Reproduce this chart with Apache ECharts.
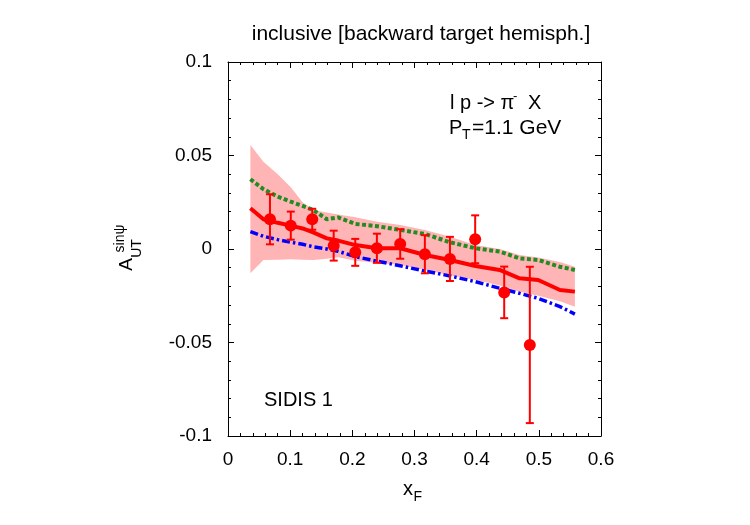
<!DOCTYPE html>
<html><head><meta charset="utf-8">
<script src="https://cdn.jsdelivr.net/npm/echarts@6/dist/echarts.min.js"></script>
<style>html,body{margin:0;padding:0;background:#fff}#c{width:750px;height:525px}</style>
</head><body><div id="c"></div>
<script>
// ---- data ----
const curveX   = [0.036,0.057,0.08,0.101,0.12,0.137,0.159,0.177,0.205,0.24,0.277,0.317,0.357,0.398,0.437,0.469,0.499,0.534,0.558];
const bandUpper= [0.0556,0.0467,0.040,0.033,0.025,0.0209,0.0195,0.0185,0.017,0.0146,0.0128,0.0102,0.0065,0.0021,0.0,-0.0032,-0.0045,-0.007,-0.0095];
const bandLower= [-0.013,-0.0059,-0.0057,-0.0055,-0.0057,-0.0059,-0.0052,-0.0044,-0.0063,-0.0073,-0.0086,-0.0112,-0.014,-0.0166,-0.0195,-0.0228,-0.025,-0.028,-0.0309];
const redCurve = [0.0218,0.0159,0.014,0.0125,0.011,0.0089,0.0057,0.0045,0.0021,0.0004,0.0004,-0.0032,-0.0059,-0.0091,-0.0112,-0.0157,-0.0166,-0.0219,-0.0228];
const greenCurve=[0.0373,0.032,0.028,0.0253,0.023,0.0209,0.0159,0.0169,0.0134,0.0122,0.0102,0.008,0.0036,0.0004,-0.0014,-0.005,-0.0059,-0.0095,-0.0112];
const blueCurve= [0.0093,0.0068,0.005,0.0036,0.0025,0.0012,0.0,-0.0012,-0.0041,-0.0065,-0.009,-0.0118,-0.0144,-0.0175,-0.021,-0.0237,-0.0264,-0.0308,-0.0348];
const ptX   = [0.0675,0.101,0.1355,0.170,0.2047,0.2395,0.277,0.3167,0.357,0.3976,0.4443,0.4855];
const ptY   = [0.0159,0.0125,0.0159,0.0018,-0.0018,0.0004,0.0027,-0.0028,-0.0053,0.0052,-0.0232,-0.0513];
const ptErr = [0.0134,0.0075,0.0056,0.008,0.0072,0.0078,0.0079,0.0102,0.0118,0.0128,0.0138,0.0418];
const xTicks = [0,0.1,0.2,0.3,0.4,0.5,0.6];
const yTicks = [-0.1,-0.05,0,0.05,0.1];

const FONT = 'Liberation Sans, Arial, Helvetica, sans-serif';
const zip = (a,b)=>a.map((v,i)=>[v,b[i]]);
const chart = echarts.init(document.getElementById('c'), null, {renderer:'canvas'});

const axisCommon = {
  axisLine:{show:true,onZero:false,lineStyle:{color:'#000',width:1}},
  axisTick:{show:true,inside:true,length:6,lineStyle:{color:'#000',width:1}},
  minorTick:{show:true,splitNumber:5,length:3,lineStyle:{color:'#000',width:1}},
  splitLine:{show:false}
};
const fmtX = v => String(Math.round(v*10)/10);
const fmtY = v => String(Math.round(v*100)/100);

const option = {
  animation:false,
  backgroundColor:'#fff',
  title:{text:'inclusive [backward target hemisph.]',left:416,top:19,textAlign:'center',
    textStyle:{fontFamily:FONT,fontSize:21,fontWeight:'normal',color:'#000'}},
  grid:{left:228,right:149,top:62,bottom:89,containLabel:false},
  xAxis:[
    Object.assign({type:'value',position:'bottom',min:xTicks[0],max:xTicks[xTicks.length-1],interval:0.1,
      axisLabel:{show:true,margin:14,fontFamily:FONT,fontSize:19,color:'#000',formatter:fmtX}},axisCommon),
    Object.assign({type:'value',position:'top',min:xTicks[0],max:xTicks[xTicks.length-1],interval:0.1,axisLabel:{show:false}},axisCommon)
  ],
  yAxis:[
    Object.assign({type:'value',position:'left',min:yTicks[0],max:yTicks[yTicks.length-1],interval:0.05,
      axisLabel:{show:true,margin:16,fontFamily:FONT,fontSize:19,color:'#000',formatter:fmtY}},axisCommon),
    Object.assign({type:'value',position:'right',min:yTicks[0],max:yTicks[yTicks.length-1],interval:0.05,axisLabel:{show:false}},axisCommon)
  ],
  series:[
    {type:'custom',name:'band',data:[[0,0]],z:1,silent:true,
     renderItem:(params,api)=>{
       const pts=[];
       for(let i=0;i<curveX.length;i++) pts.push(api.coord([curveX[i],bandUpper[i]]));
       for(let i=curveX.length-1;i>=0;i--) pts.push(api.coord([curveX[i],bandLower[i]]));
       return {type:'polygon',shape:{points:pts},style:{fill:'#ffb5b5',stroke:null}};
     }},
    {type:'line',name:'green',data:zip(curveX,greenCurve),showSymbol:false,z:3,
     lineStyle:{color:'#228b22',width:4,type:[4,2.5],cap:'butt'}},
    {type:'line',name:'blue',data:zip(curveX,blueCurve),showSymbol:false,z:3,
     lineStyle:{color:'#0000ff',width:3.5,type:[8,3,2.5,3],cap:'butt'}},
    {type:'line',name:'red',data:zip(curveX,redCurve),showSymbol:false,z:4,
     lineStyle:{color:'#ff0000',width:4}},
    {type:'custom',name:'errbars',z:5,silent:true,
     data:ptX.map((x,i)=>[x,ptY[i],ptY[i]-ptErr[i],ptY[i]+ptErr[i]]),
     renderItem:(params,api)=>{
       const x=api.value(0);
       const lo=api.coord([x,api.value(2)]), hi=api.coord([x,api.value(3)]);
       const w=4, st={stroke:'#ff0000',lineWidth:2};
       return {type:'group',children:[
         {type:'line',shape:{x1:lo[0],y1:lo[1],x2:hi[0],y2:hi[1]},style:st},
         {type:'line',shape:{x1:lo[0]-w,y1:lo[1],x2:lo[0]+w,y2:lo[1]},style:st},
         {type:'line',shape:{x1:hi[0]-w,y1:hi[1],x2:hi[0]+w,y2:hi[1]},style:st}
       ]};
     }},
    {type:'scatter',name:'points',data:zip(ptX,ptY),symbol:'circle',symbolSize:12,z:6,
     itemStyle:{color:'#ff0000',opacity:1}}
  ],
  graphic:[
    // y-axis label A_UT^{sinψ}
    {type:'text',x:127,y:264.5,rotation:Math.PI/2,style:{text:'A',fontFamily:FONT,fontSize:19,fill:'#000',textAlign:'center',textVerticalAlign:'middle'}},
    {type:'text',x:137.5,y:248.5,rotation:Math.PI/2,style:{text:'UT',fontFamily:FONT,fontSize:14,fill:'#000',textAlign:'center',textVerticalAlign:'middle'}},
    {type:'text',x:120.5,y:238.5,rotation:Math.PI/2,style:{text:'sinψ',fontFamily:FONT,fontSize:14,fill:'#000',textAlign:'center',textVerticalAlign:'middle'}},
    // x-axis label x_F
    {type:'text',x:403,y:489,style:{text:'x',fontFamily:FONT,fontSize:20,fill:'#000',textAlign:'left',textVerticalAlign:'middle'}},
    {type:'text',x:413.5,y:497,style:{text:'F',fontFamily:FONT,fontSize:14,fill:'#000',textAlign:'left',textVerticalAlign:'middle'}},
    // reaction
    {type:'text',x:450,y:103,style:{text:'l p -> π',fontFamily:FONT,fontSize:20,fill:'#000',textAlign:'left',textVerticalAlign:'middle'}},
    {type:'text',x:513,y:96,style:{text:'-',fontFamily:FONT,fontSize:13,fill:'#000',textAlign:'left',textVerticalAlign:'middle'}},
    {type:'text',x:528,y:103,style:{text:'X',fontFamily:FONT,fontSize:20,fill:'#000',textAlign:'left',textVerticalAlign:'middle'}},
    {type:'text',x:449,y:128,style:{text:'P',fontFamily:FONT,fontSize:20,fill:'#000',textAlign:'left',textVerticalAlign:'middle'}},
    {type:'text',x:462,y:135,style:{text:'T',fontFamily:FONT,fontSize:14,fill:'#000',textAlign:'left',textVerticalAlign:'middle'}},
    {type:'text',x:472,y:128,style:{text:'=1.1 GeV',fontFamily:FONT,fontSize:21,fill:'#000',textAlign:'left',textVerticalAlign:'middle'}},
    {type:'text',x:264,y:400,style:{text:'SIDIS 1',fontFamily:FONT,fontSize:20,fill:'#000',textAlign:'left',textVerticalAlign:'middle'}}
  ]
};
chart.setOption(option);
</script></body></html>
